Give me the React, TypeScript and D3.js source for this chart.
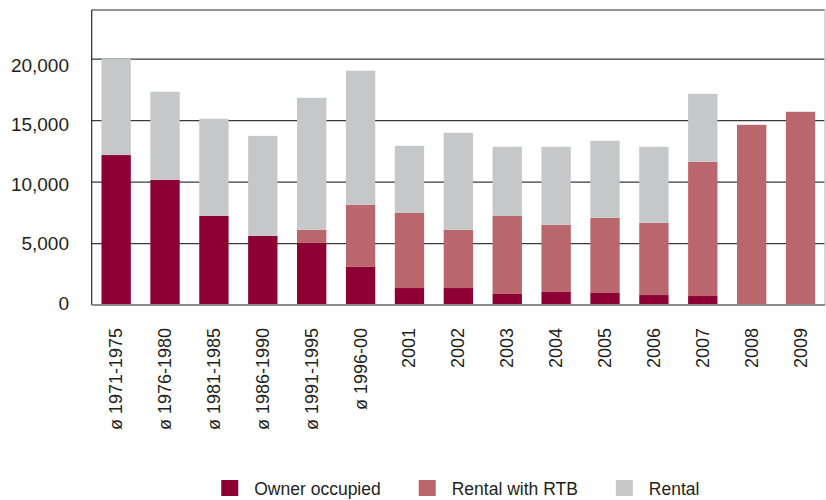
import React, { useEffect, useRef } from 'react';
import * as d3 from 'd3';

const categories = [
  'ø 1971-1975', 'ø 1976-1980', 'ø 1981-1985', 'ø 1986-1990', 'ø 1991-1995', 'ø 1996-00',
  '2001', '2002', '2003', '2004', '2005', '2006', '2007', '2008', '2009',
];
const ownerOccupied = [12200, 10180, 7250, 5620, 5050, 3100, 1380, 1380, 900, 1060, 980, 810, 730, 0, 0];
const rentalWithRTB = [0, 0, 0, 0, 1060, 5050, 6110, 4730, 6350, 5460, 6110, 5870, 10910, 14660, 15720];
const rental = [7850, 7170, 7900, 8140, 10750, 10910, 5460, 7900, 5620, 6350, 6270, 6190, 5540, 0, 0];
const seriesNames = ['Owner occupied', 'Rental with RTB', 'Rental'];
const seriesColors = ['#8c0033', '#b9666d', '#c6c7c9'];
const yTicks = [0, 5000, 10000, 15000, 20000];

export default function App() {
  const svgRef = useRef<SVGSVGElement>(null);

  useEffect(() => {
    if (!svgRef.current) return;
    const W = 826;
    const H = 500;
    const margin = { top: 10, right: 1, bottom: 195, left: 91.7 };

    const svg = d3.select(svgRef.current);
    svg.selectAll('*').remove();
    svg.attr('width', W).attr('height', H);

    const font = "'Liberation Sans', Arial, sans-serif";

    const x = d3.scaleBand<string>()
      .domain(categories)
      .range([margin.left, W - margin.right])
      .paddingInner(0.4)
      .paddingOuter(0.2);

    const y = d3.scaleLinear()
      .domain([0, 24000])
      .range([H - margin.bottom, margin.top]);

    // tick labels in the original sit on a slightly tighter spacing than the grid
    const labelY = d3.scaleLinear().domain([0, 20000]).range([310, 71.6]);

    // gridlines
    svg.append('g')
      .selectAll('line')
      .data(yTicks.filter(t => t > 0))
      .join('line')
      .attr('x1', margin.left)
      .attr('x2', W - margin.right)
      .attr('y1', d => y(d))
      .attr('y2', d => y(d))
      .attr('stroke', '#3a3a3a')
      .attr('stroke-width', 1.2);

    // frame
    svg.append('line')
      .attr('x1', margin.left).attr('x2', W - margin.right)
      .attr('y1', margin.top).attr('y2', margin.top)
      .attr('stroke', '#2a2a2a').attr('stroke-width', 1.2);
    svg.append('line')
      .attr('x1', W - margin.right).attr('x2', W - margin.right)
      .attr('y1', margin.top).attr('y2', y(0))
      .attr('stroke', '#c8c8c8').attr('stroke-width', 1.5);
    svg.append('line')
      .attr('x1', margin.left).attr('x2', margin.left)
      .attr('y1', margin.top).attr('y2', y(0))
      .attr('stroke', '#2a2a2a').attr('stroke-width', 1.2);

    // stacked bars
    const rows = categories.map((c, i) => ({
      cat: c,
      owner: ownerOccupied[i],
      rtb: rentalWithRTB[i],
      rental: rental[i],
    }));
    const stack = d3.stack<any>().keys(['owner', 'rtb', 'rental']);
    const layers = stack(rows);

    svg.append('g')
      .selectAll('g')
      .data(layers)
      .join('g')
      .attr('fill', (_, i) => seriesColors[i])
      .selectAll('rect')
      .data(d => d)
      .join('rect')
      .attr('x', d => x(d.data.cat)!)
      .attr('width', x.bandwidth())
      .attr('y', d => y(d[1]))
      .attr('height', d => Math.max(0, y(d[0]) - y(d[1])));

    // baseline
    svg.append('line')
      .attr('x1', margin.left).attr('x2', W - margin.right)
      .attr('y1', y(0)).attr('y2', y(0))
      .attr('stroke', '#8a8a8a').attr('stroke-width', 2);

    // y labels
    svg.append('g')
      .selectAll('text')
      .data(yTicks)
      .join('text')
      .attr('x', 69)
      .attr('y', d => labelY(d))
      .attr('text-anchor', 'end')
      .attr('font-family', font)
      .attr('font-size', 19)
      .attr('fill', '#231f20')
      .text(d => d3.format(',')(d));

    // x labels
    svg.append('g')
      .selectAll('text')
      .data(categories)
      .join('text')
      .attr('transform', d => `translate(${x(d)! + x.bandwidth() / 2 + 6},328) rotate(-90)`)
      .attr('text-anchor', 'end')
      .attr('font-family', font)
      .attr('font-size', 18)
      .attr('fill', '#231f20')
      .text(d => d);

    // legend
    const legend = svg.append('g');
    let cursor = 0;
    seriesNames.forEach((name, i) => {
      const item = legend.append('g').attr('transform', `translate(${cursor},0)`);
      item.append('rect')
        .attr('x', 0).attr('y', 480)
        .attr('width', 17).attr('height', 16)
        .attr('fill', seriesColors[i]);
      const t = item.append('text')
        .attr('x', 33).attr('y', 495)
        .attr('font-family', font)
        .attr('font-size', 17.5)
        .attr('fill', '#231f20')
        .text(name);
      const tw = (t.node() as SVGTextElement).getComputedTextLength();
      cursor += 33 + tw + 38;
    });
    const total = cursor - 38;
    legend.attr('transform', `translate(${(margin.left + W - margin.right) / 2 + 2 - total / 2},0)`);
  }, []);

  return (
    <svg
      ref={svgRef}
      style={{ position: 'absolute', left: 0, top: 0, background: '#fff' }}
    />
  );
}
